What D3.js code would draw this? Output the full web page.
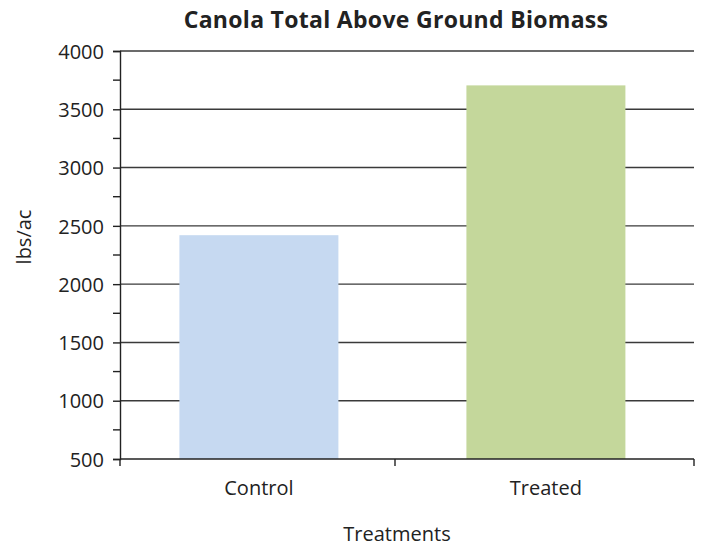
<!DOCTYPE html>
<html>
<head>
<meta charset="utf-8">
<script src="https://cdn.jsdelivr.net/npm/d3@7"></script>
<style>
  body { margin: 0; background: #fff; }
  text { font-family: "Open Sans", sans-serif; fill: #222; }
</style>
</head>
<body>
<svg id="chart" width="702" height="546"></svg>
<script>
let categories = ["Control", "Treated"]
let values = [2420, 3705]
let barColors = ["#c6d9f1", "#c4d79b"]
let yTicks = [500, 1000, 1500, 2000, 2500, 3000, 3500, 4000]
let yMinorTicks = [750, 1250, 1750, 2250, 2750, 3250, 3750]

let svg = d3.select("#chart")
let width = 702, height = 546
let margin = { top: 51, right: 8, bottom: 87, left: 120 }

let x = d3.scaleBand()
    .domain(categories)
    .range([margin.left, width - margin.right])
    .padding(0)

let y = d3.scaleLinear()
    .domain([500, 4000])
    .range([height - margin.bottom, margin.top])

// bar sits a little left of band centre, like excel drew it
let barOffset = 0.207, barWidth = 0.554

// gridlines
svg.append("g")
    .selectAll("line")
    .data(yTicks.slice(1))
    .enter()
    .append("line")
      .attr("x1", margin.left)
      .attr("x2", width - margin.right)
      .attr("y1", d => y(d))
      .attr("y2", d => y(d))
      .style("stroke", "#3a3a3a")
      .style("stroke-width", 1.4)

// bars
svg.append("g")
    .selectAll("rect")
    .data(categories)
    .enter()
    .append("rect")
      .attr("x", d => x(d) + x.bandwidth() * barOffset)
      .attr("width", x.bandwidth() * barWidth)
      .attr("y", (d, i) => y(values[i]))
      .attr("height", (d, i) => y(500) - y(values[i]))
      .style("fill", (d, i) => barColors[i])

// y axis
let yAxis = svg.append("g")
    .attr("transform", `translate(${margin.left},0)`)
    .call(d3.axisLeft(y).tickValues(yTicks).tickFormat(d3.format("d")).tickSize(7).tickPadding(9))
yAxis.select(".domain").style("stroke", "#222").style("stroke-width", 1.4)
yAxis.selectAll(".tick line").style("stroke", "#222").style("stroke-width", 1.4)
yAxis.selectAll("text")
    .attr("dy", "0.36em")
    .style("font-size", "20px").style("font-family", "Open Sans").style("fill", "#222")

svg.append("g")
    .selectAll("line")
    .data(yMinorTicks)
    .enter()
    .append("line")
      .attr("x1", margin.left - 7)
      .attr("x2", margin.left)
      .attr("y1", d => y(d))
      .attr("y2", d => y(d))
      .style("stroke", "#222")
      .style("stroke-width", 1.4)

// x axis
let baseY = y(500)
svg.append("line")
    .attr("x1", margin.left)
    .attr("x2", width - margin.right)
    .attr("y1", baseY)
    .attr("y2", baseY)
    .style("stroke", "#222")
    .style("stroke-width", 1.6)

let boundaries = [margin.left, x("Treated") - 12, width - margin.right]
svg.append("g")
    .selectAll("line")
    .data(boundaries)
    .enter()
    .append("line")
      .attr("x1", d => d)
      .attr("x2", d => d)
      .attr("y1", baseY)
      .attr("y2", baseY + 7)
      .style("stroke", "#222")
      .style("stroke-width", 1.4)

svg.append("g")
    .selectAll("text")
    .data(categories)
    .enter()
    .append("text")
      .attr("x", d => x(d) + x.bandwidth() * (barOffset + barWidth / 2))
      .attr("y", baseY + 36)
      .attr("text-anchor", "middle")
      .style("font-size", "20px")
      .text(d => d)

// titles
svg.append("text")
    .attr("x", 396)
    .attr("y", 28)
    .attr("text-anchor", "middle")
    .style("font-size", "23px")
    .style("font-weight", "bold")
    .style("letter-spacing", "0.3px")
    .text("Canola Total Above Ground Biomass")

svg.append("text")
    .attr("x", 397)
    .attr("y", 541)
    .attr("text-anchor", "middle")
    .style("font-size", "20px")
    .text("Treatments")

svg.append("text")
    .attr("transform", "translate(31,237) rotate(-90)")
    .attr("text-anchor", "middle")
    .style("font-size", "20px")
    .text("lbs/ac")
</script>
</body>
</html>
